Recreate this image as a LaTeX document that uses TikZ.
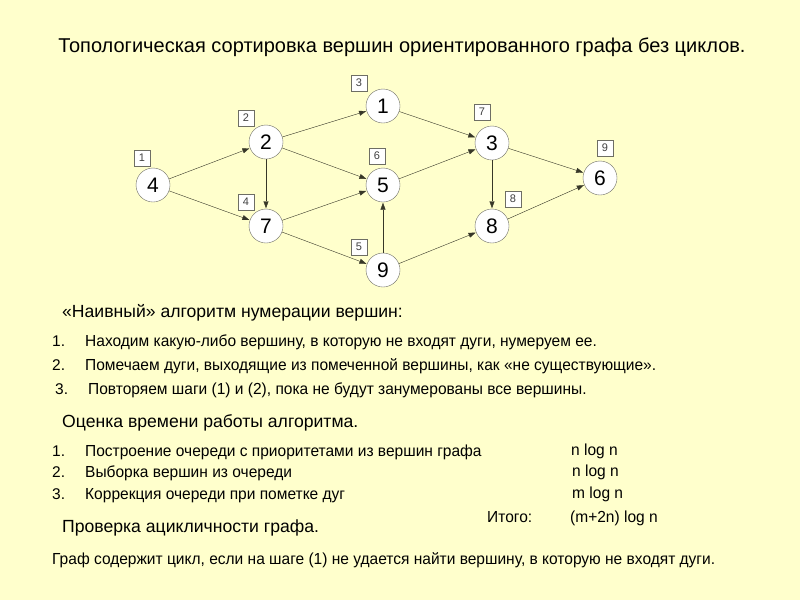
\documentclass[tikz,border=0pt]{standalone}
\usepackage{fontspec}
\setmainfont{Liberation Sans}
\newfontfamily\narrowfont[FakeStretch=0.97]{Liberation Sans}
\usepackage{tikz}
\usetikzlibrary{arrows.meta}
\definecolor{slidebg}{RGB}{255, 255, 204}
\definecolor{arcgray}{RGB}{55, 55, 40}
\definecolor{rimgray}{RGB}{110, 110, 100}
\tikzset{
  vertex/.style={
    circle,
    draw=rimgray,
    fill=white,
    minimum size=34pt,
    inner sep=0pt,
    font=\fontsize{21}{21}\selectfont
  },
  numBox/.style={
    draw=rimgray,
    fill=white,
    minimum size=16pt,
    inner sep=0pt,
    font=\fontsize{11}{11}\selectfont\color{black!75}
  },
  every edge/.style={
    draw=arcgray,
    -{Triangle[length=7pt,width=5pt]},
    shorten >=0.5pt
  },
  heading/.style={anchor=west, inner sep=0pt, font=\fontsize{17.6}{17.6}\selectfont},
  item/.style={anchor=west, inner sep=0pt, text height=11.5pt, text depth=3.5pt,
    font=\narrowfont\fontsize{16}{16}\selectfont},
  itemNum/.style={anchor=west, inner sep=0pt, text height=11.5pt, text depth=3.5pt,
    font=\fontsize{15.5}{15.5}\selectfont}
}
\begin{document}
\begin{tikzpicture}[x=1pt, y=-1pt]
  \fill[slidebg] (0,0) rectangle (800,600);
  \useasboundingbox (0,0) rectangle (800,600);

  \node[font=\fontsize{20}{20}\selectfont] (title) at (402,47)
    {Топологическая сортировка вершин ориентированного графа без циклов.};

  % vertices
  \node[vertex] (v4) at (153,185) {4};
  \node[vertex] (v2) at (266,142) {2};
  \node[vertex] (v7) at (266,226) {7};
  \node[vertex] (v1) at (383,106) {1};
  \node[vertex] (v5) at (383,185) {5};
  \node[vertex] (v9) at (383,270) {9};
  \node[vertex] (v3) at (492,143) {3};
  \node[vertex] (v8) at (492,226) {8};
  \node[vertex] (v6) at (600,178) {6};

  % order numbers
  \node[numBox] (n1) at (142,158) {1};
  \node[numBox] (n2) at (246,118) {2};
  \node[numBox] (n3) at (359,83) {3};
  \node[numBox] (n4) at (246,202) {4};
  \node[numBox] (n5) at (359,247) {5};
  \node[numBox] (n6) at (377,156) {6};
  \node[numBox] (n7) at (482,112) {7};
  \node[numBox] (n8) at (513,199) {8};
  \node[numBox] (n9) at (605,148) {9};

  \path
  (v4) edge (v2)
       edge (v7)
  (v2) edge (v1)
       edge (v5)
       edge (v7)
  (v7) edge (v5)
       edge (v9)
  (v9) edge (v5)
       edge (v8)
  (v1) edge (v3)
  (v5) edge (v3)
  (v3) edge (v8)
       edge (v6)
  (v8) edge (v6);

  % naive algorithm
  \node[heading] (naive) at (62,313) {«Наивный» алгоритм нумерации вершин:};
  \node[itemNum] (a1) at (52,342) {1.};
  \node[item] (t1) at (85,342) {Находим какую-либо вершину, в которую не входят дуги, нумеруем ее.};
  \node[itemNum] (a2) at (52,366) {2.};
  \node[item] (t2) at (85,366) {Помечаем дуги, выходящие из помеченной вершины, как «не существующие».};
  \node[itemNum] (a3) at (55,390) {3.};
  \node[item] (t3) at (88,390) {Повторяем шаги (1) и (2), пока не будут занумерованы все вершины.};

  % time estimate
  \node[heading] (cost) at (62,423) {Оценка времени работы алгоритма.};
  \node[itemNum] (b1) at (52,452) {1.};
  \node[item] (s1) at (85,452) {Построение очереди с приоритетами из вершин графа};
  \node[item] (c1) at (571,451) {n log n};
  \node[itemNum] (b2) at (52,473) {2.};
  \node[item] (s2) at (85,473) {Выборка вершин из очереди};
  \node[item] (c2) at (572,472) {n log n};
  \node[itemNum] (b3) at (52,495) {3.};
  \node[item] (s3) at (85,495) {Коррекция очереди при пометке дуг};
  \node[item] (c3) at (572,494) {m log n};
  \node[item] (total) at (487,518) {Итого:};
  \node[item] (ctot) at (570,518) {(m+2n) log n};

  % acyclicity
  \node[heading] (check) at (62,528) {Проверка ацикличности графа.};
  \node[item] (last) at (52,560) {Граф содержит цикл, если на шаге (1) не удается найти вершину, в которую не входят дуги.};
\end{tikzpicture}
\end{document}
